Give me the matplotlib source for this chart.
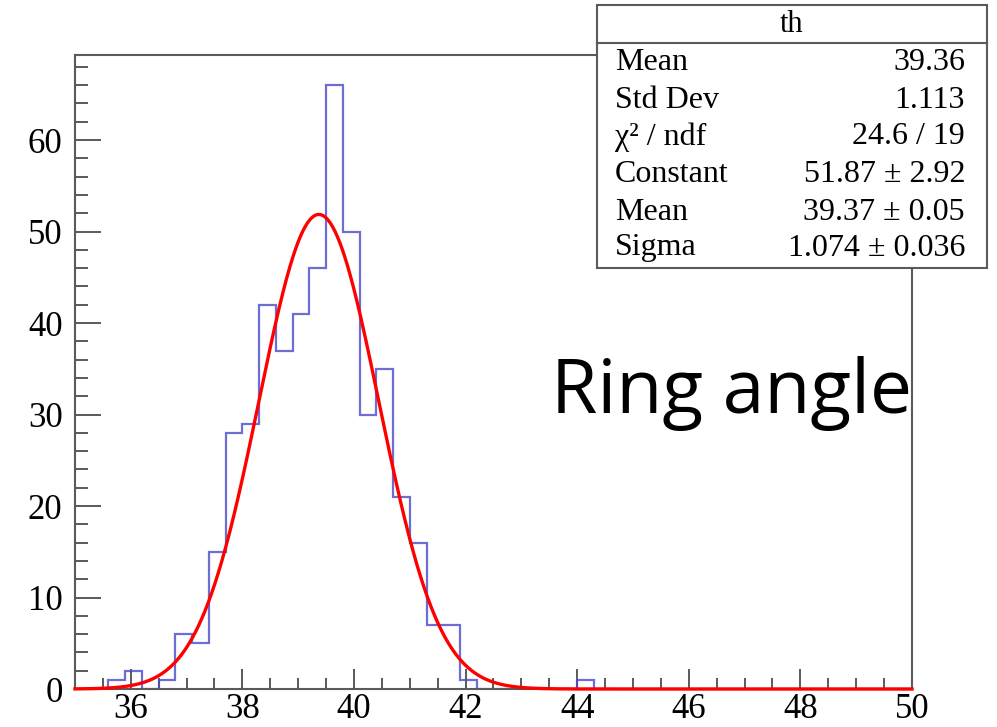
"""Histogram of the ring angle with a Gaussian fit, ROOT style."""

import numpy as np
import matplotlib
matplotlib.use("Agg")
import matplotlib.pyplot as plt
from matplotlib.patches import Rectangle
from matplotlib.ticker import MultipleLocator

# 50 bins from 35 to 50 (width 0.3)
x_min, x_max, n_bins = 35.0, 50.0, 50
counts = [0, 0, 1, 2, 0, 1, 6, 5, 15, 28,
          29, 42, 37, 41, 46, 66, 50, 30, 35, 21,
          16, 7, 7, 1, 0, 0, 0, 0, 0, 0,
          1, 0, 0, 0, 0, 0, 0, 0, 0, 0,
          0, 0, 0, 0, 0, 0, 0, 0, 0, 0]

# fit parameters
fit_const, fit_mean, fit_sigma = 51.87, 39.37, 1.074

stat_names = ["Mean", "Std Dev", "\u03c7\u00b2 / ndf", "Constant", "Mean", "Sigma"]
stat_values = ["39.36", "1.113", "24.6 / 19", "51.87 \u00b1 2.92",
               "39.37 \u00b1 0.05", "1.074 \u00b1 0.036"]

W, H = 997, 727
serif = "Liberation Serif"
axcol = "#5a5a5a"

fig = plt.figure(figsize=(W / 100, H / 100), dpi=100)
ax = fig.add_axes([75 / W, 1 - 689 / H, (912 - 75) / W, (689 - 55) / H])

edges = np.linspace(x_min, x_max, n_bins + 1)
ax.stairs(counts, edges, color="#4848cc", lw=1.6, alpha=0.8, zorder=2)

xs = np.linspace(x_min, x_max, 1500)
ax.plot(xs, fit_const * np.exp(-0.5 * ((xs - fit_mean) / fit_sigma) ** 2),
        color="#ff0000", lw=2.4, zorder=3, clip_on=False)

ax.set_xlim(x_min, x_max)
ax.set_ylim(0, 1.05 * max(counts))

ax.xaxis.set_major_locator(MultipleLocator(2))
ax.xaxis.set_minor_locator(MultipleLocator(0.5))
ax.yaxis.set_major_locator(MultipleLocator(10))
ax.yaxis.set_minor_locator(MultipleLocator(2))

ax.tick_params(axis="both", which="both", direction="in", color=axcol,
               width=1.4, top=False, right=False)
ax.tick_params(axis="x", which="major", length=14.5, pad=3)
ax.tick_params(axis="x", which="minor", length=8)
ax.tick_params(axis="y", which="major", length=18.5, pad=9)
ax.tick_params(axis="y", which="minor", length=9.5)
for lab in ax.get_xticklabels() + ax.get_yticklabels():
    lab.set_fontfamily(serif)
    lab.set_fontsize(25)
for sp in ax.spines.values():
    sp.set_color(axcol)
    sp.set_linewidth(1.5)

# overlay in pixel coordinates for the stats box and the label
ov = fig.add_axes([0, 0, 1, 1])
ov.set_xlim(0, W)
ov.set_ylim(H, 0)
ov.axis("off")

ov.add_patch(Rectangle((597, 5), 987 - 597, 268 - 5, facecolor="white",
                       edgecolor=axcol, lw=1.5, zorder=5))
ov.plot([597, 987], [43, 43], color=axcol, lw=1.5, zorder=6)
ov.text(792, 25, "th", ha="center", va="center", family=serif,
        fontsize=22, zorder=7)
row_y = [63, 100, 137, 175, 212, 248]
for yy, name, val in zip(row_y, stat_names, stat_values):
    ov.text(615, yy, name, ha="left", va="center", family=serif,
            fontsize=23, zorder=7)
    ov.text(965, yy, val, ha="right", va="center", family=serif,
            fontsize=23, zorder=7)

ov.text(551, 413, "Ring angle", ha="left", va="baseline",
        family="Open Sans", fontsize=54, zorder=7)

fig.savefig("out.png", dpi=100)
